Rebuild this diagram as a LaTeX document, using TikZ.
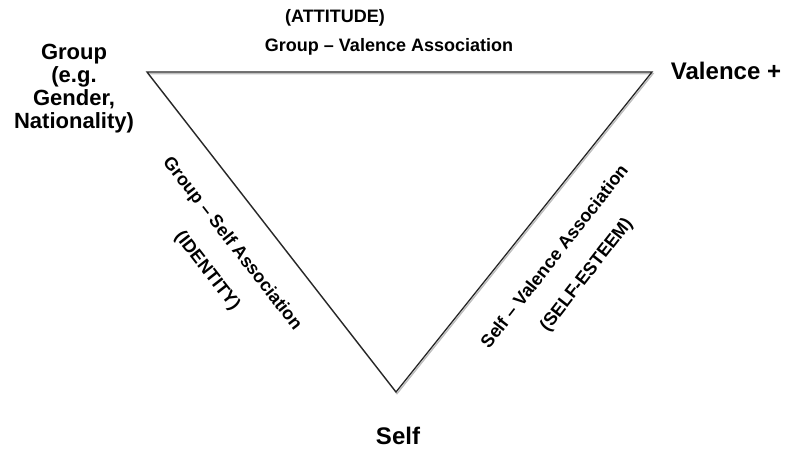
\documentclass[tikz,border=0pt]{standalone}
\usepackage{fontspec}
\setmainfont{Liberation Sans}
\usepackage{tikz}
\usetikzlibrary{positioning, calc}

\begin{document}
\begin{tikzpicture}[x=1pt, y=-1pt,
  cornerText/.style={align=center, inner sep=0pt, font=\fontsize{22}{23}\selectfont\bfseries},
  sideText/.style={inner sep=0pt, font=\fontsize{18}{20}\selectfont\bfseries}]
  \useasboundingbox (0,0) rectangle (790,457);

  % corners of the triangle
  \coordinate (group) at (147,72);
  \coordinate (valence) at (652,72);
  \coordinate (self) at (396,392);

  \draw[black!25, line width=1.4pt] ([shift={(1,1.6)}]group) -- ([shift={(1,1.6)}]valence) -- ([shift={(1,1.6)}]self) -- cycle;
  \draw[black!85, line width=1.3pt] (group) -- (valence) -- (self) -- cycle;

  % corner labels
  \node[cornerText] (groupLabel) at (74,89) {Group\\(e.g.\\Gender,\\Nationality)};
  \node[cornerText, font=\fontsize{24}{26}\selectfont\bfseries] (valenceLabel) at (726,71) {Valence +};
  \node[cornerText, font=\fontsize{24}{26}\selectfont\bfseries] (selfLabel) at (398,436) {Self};

  % side labels
  \node[sideText] (attitude) at (335,18) {(ATTITUDE)};
  \node[sideText] (groupValence) at (389,47) {Group – Valence Association};
  \node[sideText, rotate=-52] (groupSelf) at (232,244) {Group – Self Association};
  \node[sideText, rotate=-52] (identity) at (207,271) {(IDENTITY)};
  \node[sideText, rotate=52] (selfValence) at (554,256) {Self – Valence Association};
  \node[sideText, rotate=52] (selfEsteem) at (587,275) {(SELF-ESTEEM)};
\end{tikzpicture}
\end{document}
